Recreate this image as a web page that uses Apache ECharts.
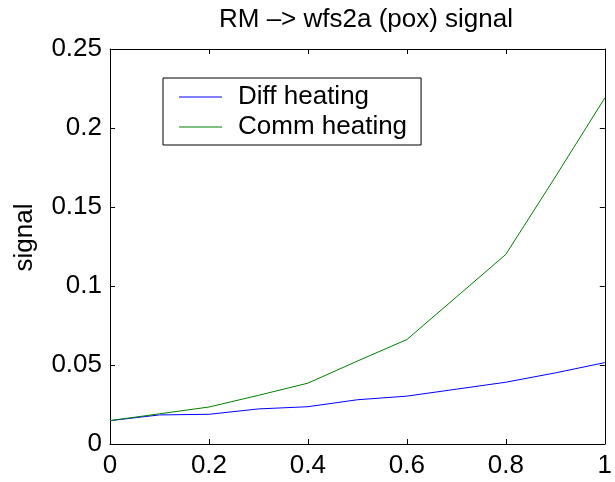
<!DOCTYPE html>
<html>
<head>
<meta charset="utf-8">
<script src="https://cdn.jsdelivr.net/npm/echarts@6/dist/echarts.min.js"></script>
<style>
html,body{margin:0;padding:0;background:#fff;}
#chart{width:615px;height:482px;}
</style>
</head>
<body>
<div id="chart"></div>
<script>
var xValues = [0, 0.1, 0.2, 0.3, 0.4, 0.5, 0.6, 0.7, 0.8, 0.9, 1.0];
var diffHeating = [0.0148, 0.0184, 0.0188, 0.0222, 0.0236, 0.0280, 0.0303, 0.0347, 0.0391, 0.0450, 0.0515];
var commHeating = [0.0148, 0.0191, 0.0234, 0.0308, 0.0385, 0.0525, 0.0661, 0.0930, 0.1200, 0.1690, 0.2190];
var seriesNames = ['Diff heating', 'Comm heating'];
var titleText = 'RM \u2013> wfs2a (pox) signal';
var yAxisName = 'signal';

function pairs(xs, ys) { return xs.map(function (x, i) { return [x, ys[i]]; }); }

var font = 'Liberation Sans, Arial, Helvetica, sans-serif';
var chart = echarts.init(document.getElementById('chart'), null, {renderer: 'canvas'});
var axisCommon = {
  type: 'value',
  axisLine: {show: true, onZero: false, lineStyle: {color: '#000', width: 1}},
  axisTick: {show: true, inside: true, length: 5, lineStyle: {color: '#000'}},
  splitLine: {show: false}
};
chart.setOption({
  animation: false,
  backgroundColor: '#fff',
  title: {
    text: titleText,
    left: 361, textAlign: 'center', top: 2,
    textStyle: {fontFamily: font, fontSize: 26, fontWeight: 'normal', color: '#000'}
  },
  grid: {left: 110, top: 49, right: 2, bottom: 38, containLabel: false},
  legend: {
    orient: 'vertical', left: 163, top: 78,
    padding: [6, 14, 5, 16],
    itemWidth: 43, itemHeight: 1, itemGap: 4,
    icon: 'rect',
    backgroundColor: '#fff', borderColor: '#000', borderWidth: 1,
    textStyle: {fontFamily: font, fontSize: 26, color: '#000', padding: [0, 0, 0, 11]},
    data: seriesNames
  },
  xAxis: [
    Object.assign({}, axisCommon, {
      position: 'bottom', min: 0, max: 1, interval: 0.2,
      axisLabel: {color: '#000', fontFamily: font, fontSize: 26, margin: 9}
    }),
    Object.assign({}, axisCommon, {
      position: 'top', min: 0, max: 1, interval: 0.2,
      axisLabel: {show: false}
    })
  ],
  yAxis: [
    Object.assign({}, axisCommon, {
      position: 'left', min: 0, max: 0.25, interval: 0.05,
      name: yAxisName, nameLocation: 'middle', nameGap: 72,
      nameTextStyle: {color: '#000', fontFamily: font, fontSize: 26, padding: [0, 0, 0, 18]},
      axisLabel: {color: '#000', fontFamily: font, fontSize: 26, margin: 8}
    }),
    Object.assign({}, axisCommon, {
      position: 'right', min: 0, max: 0.25, interval: 0.05,
      axisLabel: {show: false}
    })
  ],
  series: [
    {name: seriesNames[0], type: 'line', data: pairs(xValues, diffHeating),
     symbol: 'none', lineStyle: {color: '#0000ff', width: 1}, itemStyle: {color: '#0000ff'}},
    {name: seriesNames[1], type: 'line', data: pairs(xValues, commHeating),
     symbol: 'none', lineStyle: {color: '#008000', width: 1}, itemStyle: {color: '#008000'}}
  ]
});
</script>
</body>
</html>
